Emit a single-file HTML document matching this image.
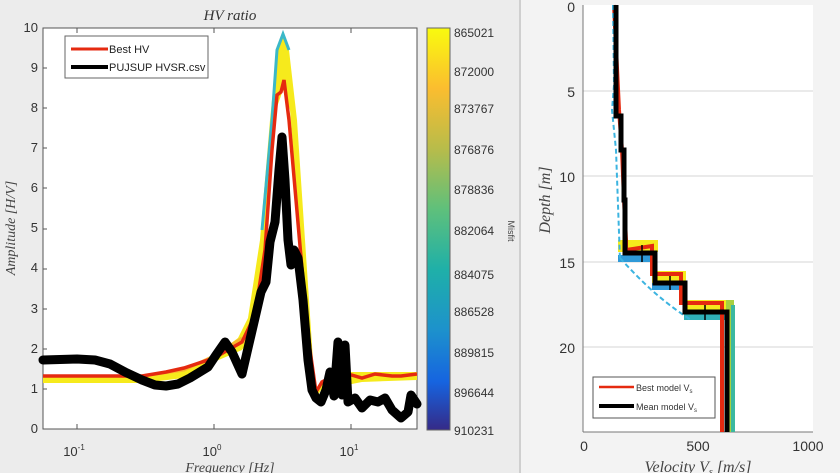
<!DOCTYPE html>
<html><head><meta charset="utf-8"><style>
html,body{margin:0;padding:0;background:#eeeeee;}
svg{display:block;font-family:"Liberation Sans",sans-serif;}
</style></head><body>
<svg width="840" height="473" viewBox="0 0 840 473" xmlns="http://www.w3.org/2000/svg">
<defs>
<linearGradient id="parula" x1="0" y1="0" x2="0" y2="1">
<stop offset="0" stop-color="#f9fb0e"/>
<stop offset="0.15" stop-color="#fbbd2f"/>
<stop offset="0.3" stop-color="#b8bc4a"/>
<stop offset="0.45" stop-color="#5fc07b"/>
<stop offset="0.6" stop-color="#1fb0a8"/>
<stop offset="0.75" stop-color="#1d92cc"/>
<stop offset="0.88" stop-color="#1664e0"/>
<stop offset="1" stop-color="#352a87"/>
</linearGradient>
</defs>
<rect x="0" y="0" width="519" height="473" fill="#ececec"/>
<rect x="521" y="0" width="319" height="473" fill="#f3f3f3"/>
<line x1="520" y1="0" x2="520" y2="473" stroke="#cfcfcf" stroke-width="2"/>

<rect x="43" y="28" width="374" height="401" fill="#fff" stroke="#555" stroke-width="1"/>
<text x="230" y="20" font-family="Liberation Serif,serif" font-style="italic" font-size="15" fill="#333" text-anchor="middle">HV ratio</text>
<g font-size="13" fill="#333" text-anchor="end">
<text x="38" y="433">0</text><text x="38" y="393">1</text><text x="38" y="353">2</text><text x="38" y="313">3</text><text x="38" y="272">4</text><text x="38" y="232">5</text><text x="38" y="192">6</text><text x="38" y="152">7</text><text x="38" y="112">8</text><text x="38" y="72">9</text><text x="38" y="32">10</text>
</g>
<g stroke="#555" stroke-width="1">
<line x1="43" y1="389" x2="47" y2="389"/><line x1="43" y1="349" x2="47" y2="349"/><line x1="43" y1="309" x2="47" y2="309"/><line x1="43" y1="269" x2="47" y2="269"/><line x1="43" y1="229" x2="47" y2="229"/><line x1="43" y1="188" x2="47" y2="188"/><line x1="43" y1="148" x2="47" y2="148"/><line x1="43" y1="108" x2="47" y2="108"/><line x1="43" y1="68" x2="47" y2="68"/>
<line x1="77" y1="429" x2="77" y2="424"/><line x1="214" y1="429" x2="214" y2="424"/><line x1="351" y1="429" x2="351" y2="424"/>
<line x1="77" y1="28" x2="77" y2="33"/><line x1="214" y1="28" x2="214" y2="33"/><line x1="351" y1="28" x2="351" y2="33"/>
</g>
<g font-size="13" fill="#333" text-anchor="middle">
<text x="74" y="456">10<tspan font-size="8" dy="-6">-1</tspan></text>
<text x="212" y="456">10<tspan font-size="8" dy="-6">0</tspan></text>
<text x="349" y="456">10<tspan font-size="8" dy="-6">1</tspan></text>
</g>
<text x="230" y="472" font-family="Liberation Serif,serif" font-style="italic" font-size="14" fill="#444" text-anchor="middle">Frequency [Hz]</text>
<text transform="translate(15,228) rotate(-90)" font-family="Liberation Serif,serif" font-style="italic" font-size="14" fill="#444" text-anchor="middle">Amplitude [H/V]</text>

<path d="M43,377 L142,377 L184,370 L214,356 L238,338 L248,318 L260,240 L270,120 L277,50 L283,34 L289,50 L297,120 L305,240 L311,330 L315,392 L321,384 L338,372 L362,372 L417,372 L417,380 L362,382 L321,390 L315,400 L306,340 L297,200 L290,110 L283,90 L276,110 L266,250 L256,330 L242,350 L214,362 L184,378 L142,383 L43,383Z" fill="#f6ea1c"/>
<path d="M262,230 L272,120 L277,50 L283,34 L289,50" fill="none" stroke="#3bb8c8" stroke-width="3"/>
<path d="M43,376 L142,376 L184,370 L214,356 L242,338" fill="none" stroke="#f7b92c" stroke-width="3"/>
<path d="M43,376 L142,376 L166,372 L184,368 L214,358 L242,342 L255,315 L265,250 L272,150 L277,95 L281,92 L284,80 L289,120 L296,200 L303,280 L310,350 L316,392 L322,382 L330,378 L338,374 L348,374 L362,378 L375,374 L392,376 L401,376 L417,374" fill="none" stroke="#e52a10" stroke-width="3.5"/>
<path d="M43,360 L77,359 L95,360 L110,364 L125,372 L142,380 L155,385 L166,386 L178,384 L190,378 L208,367 L216,355 L225,342 L232,352 L242,374 L248,348 L255,318 L261,292 L266,282 L270,242 L275,222 L279,170 L282,137 L285,180 L288,240 L291,265 L294,250 L298,258 L303,300 L308,360 L312,390 L316,398 L321,402 L326,390 L330,372 L334,396 L338,342 L342,395 L345,345 L348,402 L355,398 L362,408 L370,400 L378,402 L385,398 L392,410 L401,418 L408,412 L411,395 L417,404" fill="none" stroke="#000" stroke-width="9" stroke-linejoin="round" stroke-linecap="round"/>
<rect x="65" y="36" width="143" height="42" fill="#fff" stroke="#666" stroke-width="1"/>
<line x1="71" y1="49" x2="108" y2="49" stroke="#e52a10" stroke-width="3"/>
<line x1="71" y1="67" x2="108" y2="67" stroke="#000" stroke-width="4"/>
<text x="109" y="53" font-size="11" fill="#222">Best HV</text>
<text x="109" y="71" font-size="11" fill="#222">PUJSUP HVSR.csv</text>

<rect x="427" y="28" width="23" height="402" fill="url(#parula)" stroke="#666" stroke-width="1"/>
<g font-size="12" fill="#333">
<text x="454" y="37">865021</text><text x="454" y="76">872000</text><text x="454" y="113">873767</text><text x="454" y="154">876876</text><text x="454" y="194">878836</text><text x="454" y="235">882064</text><text x="454" y="279">884075</text><text x="454" y="316">886528</text><text x="454" y="357">889815</text><text x="454" y="397">896644</text><text x="454" y="435">910231</text>
</g>
<text transform="translate(508,231) rotate(90)" font-size="9" fill="#444" text-anchor="middle">Misfit</text>

<rect x="583" y="5" width="230" height="427" fill="#fff"/>
<g stroke="#d6d6d6" stroke-width="1">
<line x1="583" y1="91" x2="813" y2="91"/><line x1="583" y1="176" x2="813" y2="176"/><line x1="583" y1="262" x2="813" y2="262"/><line x1="583" y1="347" x2="813" y2="347"/>
</g>
<line x1="583" y1="5" x2="583" y2="432" stroke="#777"/>
<line x1="583" y1="432" x2="813" y2="432" stroke="#777"/>
<g font-size="14" fill="#333" text-anchor="end">
<text x="575" y="12">0</text><text x="575" y="97">5</text><text x="575" y="182">10</text><text x="575" y="268">15</text><text x="575" y="353">20</text>
</g>
<g font-size="14" fill="#333" text-anchor="middle">
<text x="584" y="451">0</text><text x="698" y="451">500</text><text x="808" y="451">1000</text>
</g>
<text x="698" y="472" font-family="Liberation Serif,serif" font-style="italic" font-size="16" fill="#444" text-anchor="middle">Velocity V<tspan font-size="10" dy="3">s</tspan><tspan dy="-3"> [m/s]</tspan></text>
<text transform="translate(550,200) rotate(-90)" font-family="Liberation Serif,serif" font-style="italic" font-size="16" fill="#444" text-anchor="middle">Depth [m]</text>

<rect x="618" y="240" width="40" height="12" fill="#f6ea1c"/>
<rect x="652" y="271" width="34" height="12" fill="#f6ea1c"/>
<rect x="684" y="300" width="48" height="12" fill="#f6ea1c"/>
<rect x="618" y="255" width="38" height="7" fill="#2f9ad8"/>
<rect x="652" y="283" width="33" height="7" fill="#2f9ad8"/>
<rect x="684" y="313" width="44" height="7" fill="#2fb0b8"/>
<rect x="726" y="300" width="8" height="132" fill="#a8d040"/>
<rect x="731" y="305" width="4" height="127" fill="#3bb8a0"/>
<path d="M614,5 L619,110 L622,150 L624,200 L626,240 L626,250 L652,246 L652,274 L681,274 L681,303 L722,303 L722,432" fill="none" stroke="#e52a10" stroke-width="4"/>
<path d="M620,258 C640,280 660,300 691,320" fill="none" stroke="#3cb4e0" stroke-width="2" stroke-dasharray="5,3"/>
<path d="M613,5 L614,85 L612,110 L616,150 L620,260" fill="none" stroke="#3cb4e0" stroke-width="2" stroke-dasharray="5,3"/>
<path d="M616,5 L616,116 L621,116 L621,150 L624,150 L624,200 L625,200 L625,253 L655,253 L655,283 L685,283 L685,312 L727,312 L727,432" fill="none" stroke="#000" stroke-width="5"/>
<g stroke="#000" stroke-width="1.5"><line x1="642" y1="245" x2="642" y2="262"/><line x1="670" y1="276" x2="670" y2="290"/><line x1="705" y1="305" x2="705" y2="320"/></g>
<rect x="593" y="377" width="122" height="41" fill="#fff" stroke="#555" stroke-width="1"/>
<line x1="599" y1="387" x2="634" y2="387" stroke="#e52a10" stroke-width="2.5"/>
<line x1="599" y1="406" x2="634" y2="406" stroke="#000" stroke-width="4"/>
<text x="636" y="391" font-size="9" fill="#333">Best model V<tspan font-size="6" dy="2">s</tspan></text>
<text x="636" y="410" font-size="9" fill="#333">Mean model V<tspan font-size="6" dy="2">s</tspan></text>
</svg>
</body></html>
